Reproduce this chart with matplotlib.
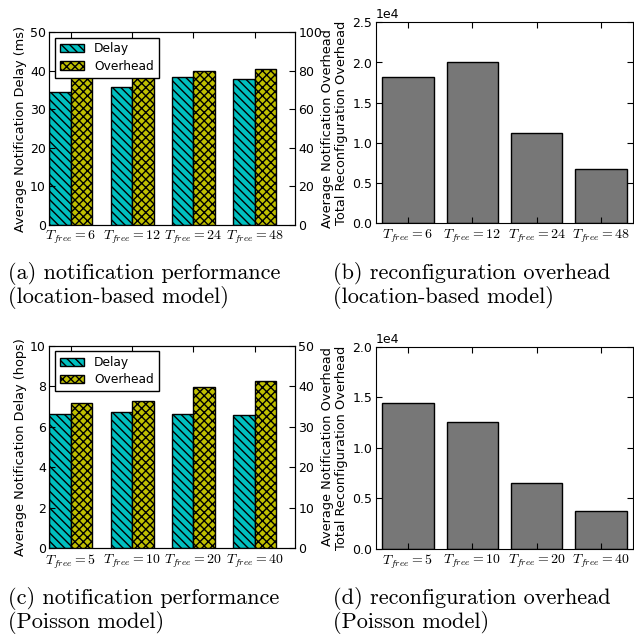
import matplotlib
matplotlib.use("Agg")
import matplotlib.pyplot as plt
import numpy as np

# data
loc_labels = [r'$T_{free}=6$', r'$T_{free}=12$', r'$T_{free}=24$', r'$T_{free}=48$']
loc_delay = [34.5, 35.7, 38.3, 37.9]          # ms (left axis)
loc_overhead = [79.3, 79.9, 79.8, 80.8]       # right axis
loc_reconf = [18200, 20000, 11200, 6750]

poi_labels = [r'$T_{free}=5$', r'$T_{free}=10$', r'$T_{free}=20$', r'$T_{free}=40$']
poi_delay = [6.63, 6.71, 6.62, 6.60]          # hops (left axis)
poi_overhead = [35.9, 36.4, 39.7, 41.2]       # right axis
poi_reconf = [14430, 12570, 6470, 3730]

captions = [
    ("(a) notification performance", "(location-based model)"),
    ("(b) reconfiguration overhead", "(location-based model)"),
    ("(c) notification performance", "(Poisson model)"),
    ("(d) reconfiguration overhead", "(Poisson model)"),
]

plt.rcParams['font.size'] = 9
plt.rcParams['axes.labelsize'] = 9.3
plt.rcParams['mathtext.fontset'] = 'cm'
plt.rcParams['xtick.direction'] = 'in'
plt.rcParams['ytick.direction'] = 'in'
plt.rcParams['xtick.top'] = True
plt.rcParams['ytick.right'] = True
plt.rcParams['xtick.major.size'] = 4
plt.rcParams['ytick.major.size'] = 4
plt.rcParams['xtick.major.pad'] = 3
plt.rcParams['ytick.major.pad'] = 2.5
plt.rcParams['hatch.linewidth'] = 1.0
plt.rcParams['legend.fancybox'] = False
plt.rcParams['legend.edgecolor'] = 'black'
plt.rcParams['legend.framealpha'] = 1.0

fig = plt.figure(figsize=(6.34, 6.34), dpi=100)
W = H = 634.0


def rect(l, t, r, b):
    return [l / W, 1 - b / H, (r - l) / W, (b - t) / H]


def perf_panel(pos, labels, delay, overhead, ylim_l, ylim_r, ylab):
    ax = fig.add_axes(pos)
    x = np.arange(len(labels))
    b1 = ax.bar(x, delay, 0.35, align='edge', color='c', edgecolor='black',
                hatch='\\\\\\\\', linewidth=1, label='Delay')
    ax.set_ylim(*ylim_l)
    ax.set_xlim(0, len(labels))
    ax.set_xticks(x + 0.35)
    ax.set_xticklabels(labels, fontsize=10)
    ax.set_ylabel(ylab)
    ax.yaxis.set_label_coords(-0.091, 0.5)
    ax2 = ax.twinx()
    b2 = ax2.bar(x + 0.35, overhead, 0.35, align='edge', color='y', edgecolor='black',
                 hatch='xxxx', linewidth=1, label='Overhead')
    ax2.set_ylim(*ylim_r)
    ax2.set_ylabel('Average Notification Overhead')
    ax2.yaxis.set_label_coords(1.106, 0.5)
    ax2.legend([b1, b2], ['Delay', 'Overhead'], loc='upper left', fontsize=8.8,
               labelspacing=0.35, borderaxespad=0.45)
    return ax


def reconf_panel(pos, labels, vals, ymax):
    ax = fig.add_axes(pos)
    x = np.arange(len(labels))
    ax.bar(x + 0.1, vals, 0.8, align='edge', color='#777777', edgecolor='black', linewidth=1)
    ax.set_xlim(0, len(labels))
    ax.set_ylim(0, ymax)
    ax.set_xticks(x + 0.5)
    ax.set_xticklabels(labels, fontsize=10)
    ax.set_yticks(np.arange(0, ymax + 1, 5000))
    ax.ticklabel_format(axis='y', style='sci', scilimits=(0, 0))
    ax.set_ylabel('Total Reconfiguration Overhead')
    ax.yaxis.set_label_coords(-0.108, 0.5)
    return ax


perf_panel(rect(49.3, 32, 294.7, 225), loc_labels, loc_delay, loc_overhead,
           (0, 50), (0, 100), 'Average Notification Delay (ms)')
reconf_panel(rect(375.7, 22.3, 633.3, 223.3), loc_labels, loc_reconf, 25000)
perf_panel(rect(49.3, 345.7, 294.7, 548.3), poi_labels, poi_delay, poi_overhead,
           (0, 10), (0, 50), 'Average Notification Delay (hops)')
reconf_panel(rect(375.7, 346.7, 633.3, 548.7), poi_labels, poi_reconf, 20000)

cap_pos = [(8, 262), (333, 262), (8, 587), (333, 587)]
for (l1, l2), (cx, cy) in zip(captions, cap_pos):
    fig.text(cx / W, 1 - cy / H, l1 + "\n" + l2, family='cmr10', fontsize=16,
             va='top', ha='left', linespacing=1.05)

fig.savefig('out.png', dpi=100)
